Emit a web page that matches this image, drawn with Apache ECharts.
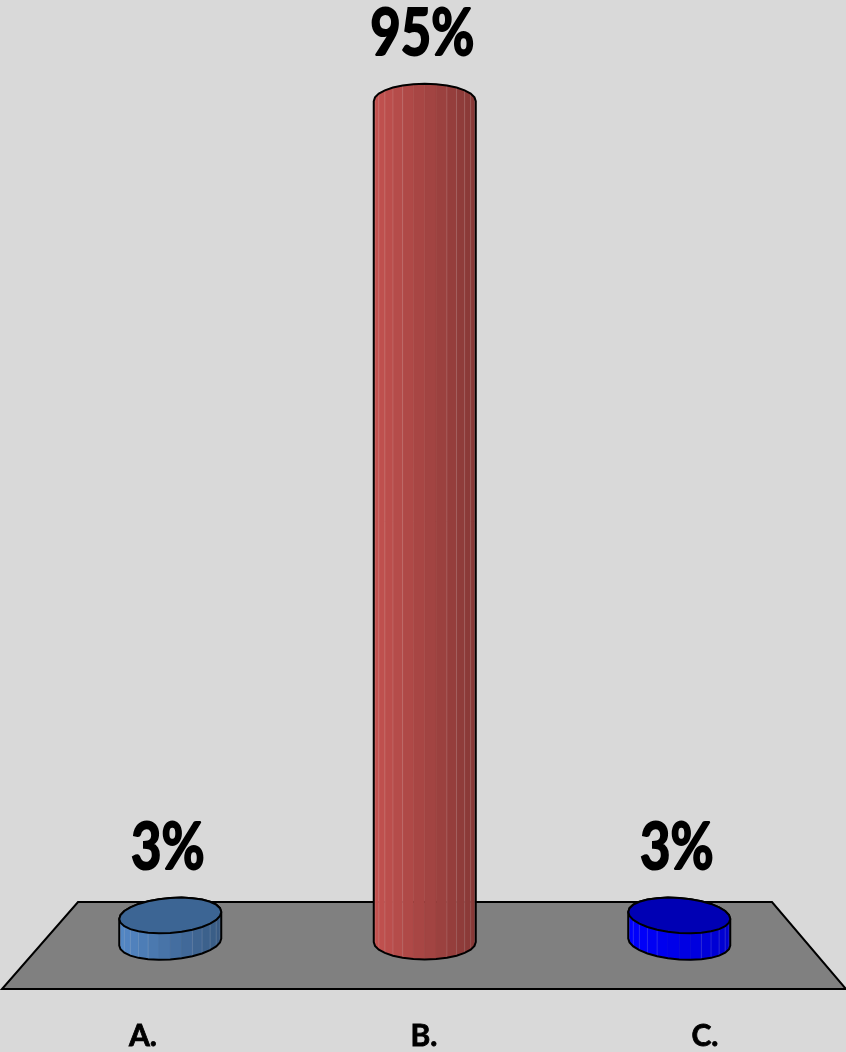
<!DOCTYPE html>
<html>
<head>
<meta charset="utf-8">
<title>chart</title>
<style>
	html, body { margin: 0; padding: 0; background: #d9d9d9; }
	#main { width: 846px; height: 1052px; }
</style>
<script src="https://cdn.jsdelivr.net/npm/echarts@6/dist/echarts.min.js"></script>
</head>
<body>
<div id="main"></div>
<script>
	// data
	var categories = ['A.', 'B.', 'C.'];
	var values = [3, 95, 3];
	var valueLabels = ['3%', '95%', '3%'];

	// one colour set per bar
	var sideLeft = [[84, 136, 198], [196, 82, 80], [0, 0, 255]];
	var sideRight = [[56, 90, 130], [134, 56, 54], [0, 0, 205]];
	var capFill = ['#3c6594', null, '#0000b4'];

	var FONT = 'Lato';
	var RX = 51, RY = 17.5, STEPS = 14;

	function mix(a, b, f) {
		return 'rgb(' + a.map(function (c, i) {
			return Math.round(c + (b[i] - c) * f);
		}).join(',') + ')';
	}

	function renderCylinder(params, api) {
		var i = api.value(0);
		var top = api.coord([i, api.value(1)]);
		var base = api.coord([i, 0]);
		var mid = api.coord([1, 0])[0];
		var cx = top[0];
		// the outer bars lean a little towards the middle of the floor
		var lean = (cx - mid) / 254.5 * 3.5;
		var children = [];
		var angles = [];
		for (var s = 0; s <= STEPS; s++) {
			angles.push(Math.PI - Math.PI * s / STEPS);
		}
		function pt(cy, t, dir) {
			return [cx + RX * Math.cos(t), cy + dir * RY * Math.sin(t) + lean * Math.cos(t)];
		}
		// B has no cap, its sides run up to the back edge
		var topDir = capFill[i] ? 1 : -1;

		for (s = 0; s < STEPS; s++) {
			var t0 = angles[s], t1 = angles[s + 1];
			var f = (1 + Math.cos((t0 + t1) / 2)) / 2;
			var color = mix(sideLeft[i], sideRight[i], f);
			children.push({
				type: 'polygon',
				shape: { points: [pt(top[1], t0, topDir), pt(top[1], t1, topDir), pt(base[1], t1, 1), pt(base[1], t0, 1)] },
				style: { fill: color, stroke: color, lineWidth: 0.5 }
			});
			// thin lighter seams towards the edges
			if (s > 0 && Math.abs(Math.cos(t0)) > 0.35) {
				children.push({
					type: 'line',
					shape: {
						x1: pt(top[1], t0, topDir)[0], y1: pt(top[1], t0, topDir)[1],
						x2: pt(base[1], t0, 1)[0], y2: pt(base[1], t0, 1)[1]
					},
					style: { stroke: 'rgba(255,255,255,0.14)', lineWidth: 1 }
				});
			}
		}

		// silhouette
		var outline = [];
		angles.forEach(function (t) { outline.push(pt(top[1], t, -1)); });
		angles.slice().reverse().forEach(function (t) { outline.push(pt(base[1], t, 1)); });
		children.push({
			type: 'polygon',
			shape: { points: outline },
			style: { fill: null, stroke: '#000', lineWidth: 2 }
		});

		if (capFill[i]) {
			var cap = [];
			angles.forEach(function (t) { cap.push(pt(top[1], t, -1)); });
			angles.slice().reverse().forEach(function (t) { cap.push(pt(top[1], t, 1)); });
			children.push({
				type: 'polygon',
				shape: { points: cap },
				style: { fill: capFill[i], stroke: '#000', lineWidth: 2 }
			});
		}

		// value label, squeezed like the reference
		children.push({
			type: 'text',
			x: cx - 2.5,
			y: top[1] - RY - 50,
			scaleX: 0.81,
			style: {
				text: valueLabels[i],
				fontFamily: FONT,
				fontWeight: 'bold',
				fontSize: 65,
				fill: '#000',
				stroke: '#000',
				lineWidth: 2,
				align: 'center',
				verticalAlign: 'middle'
			}
		});

		return { type: 'group', children: children };
	}

	var chart = echarts.init(document.getElementById('main'), null, { renderer: 'canvas' });
	chart.setOption({
		animation: false,
		backgroundColor: '#d9d9d9',
		grid: [
			{ left: 43, width: 763.5, top: 57, height: 885 },
			{ left: 2.5, width: 843, top: 902, bottom: 63 }
		],
		xAxis: [
			{
				type: 'category',
				gridIndex: 0,
				data: categories,
				axisLine: { show: false },
				axisTick: { show: false },
				axisLabel: { show: false }
			},
			{
				// labels sit along the front edge of the floor
				type: 'category',
				gridIndex: 1,
				data: categories,
				axisLine: { show: false },
				axisTick: { show: false },
				axisLabel: {
					margin: 34,
					color: '#000',
					fontFamily: FONT,
					fontWeight: 'bold',
					fontSize: 30,
					textBorderColor: '#000',
					textBorderWidth: 0.8
				}
			}
		],
		yAxis: [
			{ type: 'value', gridIndex: 0, min: 0, max: 100, show: false },
			{ type: 'value', gridIndex: 1, show: false }
		],
		graphic: [{
			type: 'polygon',
			z: -1,
			silent: true,
			shape: { points: [[78, 902], [772, 902], [846, 989], [2, 989]] },
			style: { fill: '#808080', stroke: '#000', lineWidth: 2 }
		}],
		series: [{
			type: 'custom',
			xAxisIndex: 0,
			yAxisIndex: 0,
			clip: false,
			renderItem: renderCylinder,
			encode: { x: 0, y: 1 },
			data: values.map(function (v, i) { return [i, v]; })
		}]
	});
</script>
</body>
</html>
